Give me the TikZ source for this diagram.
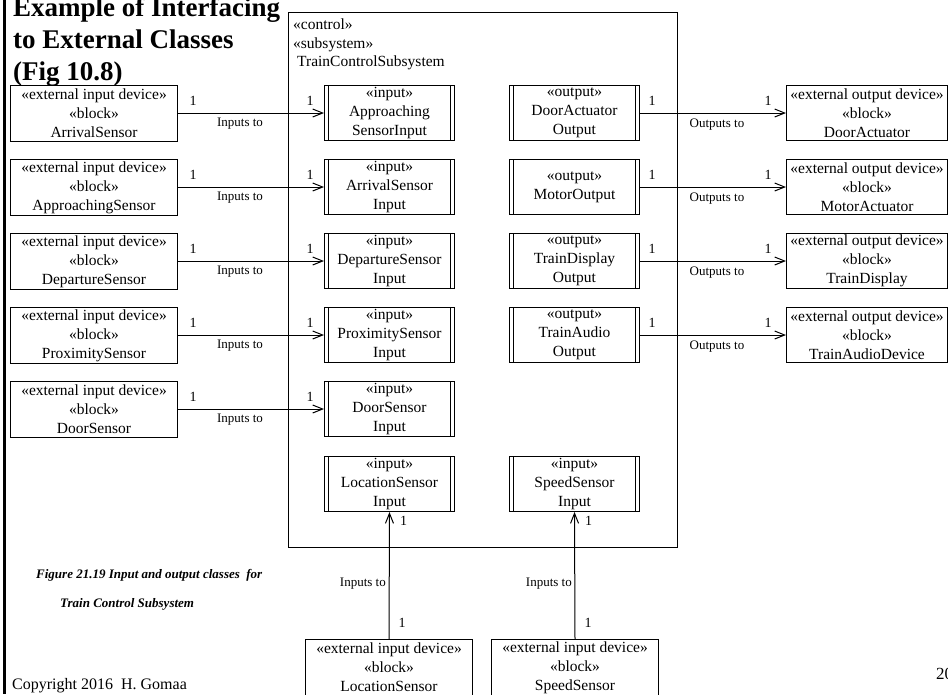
\documentclass[tikz,border=0pt]{standalone}
\usepackage{fontspec}
\setmainfont{Liberation Serif}
\usetikzlibrary{arrows.meta}

\newcommand{\boxfont}{\fontsize{15.5}{19}\selectfont}
\newcommand{\lblfont}{\fontsize{13}{15}\selectfont}
\newcommand{\multfont}{\fontsize{14}{16}\selectfont}

\tikzset{
  every picture/.style={x=1pt,y=-1pt},
  extbox/.style={draw, line width=1pt, align=center, font=\boxfont,
    inner sep=0pt, anchor=north west, minimum width=167pt, minimum height=56pt},
  extout/.style={extbox, minimum width=161pt, minimum height=55pt},
  activebox/.style={draw, line width=1pt, align=center, font=\boxfont,
    inner sep=0pt, anchor=north west, minimum width=130pt, minimum height=55pt,
    path picture={
      \draw[line width=1pt] ([xshift=4pt]path picture bounding box.north west)
        -- ([xshift=4pt]path picture bounding box.south west);
      \draw[line width=1pt] ([xshift=-4pt]path picture bounding box.north east)
        -- ([xshift=-4pt]path picture bounding box.south east);
    }},
  assoc/.style={line width=1pt, -{Straight Barb[length=10pt,width=8pt,line width=1pt]}},
  mult/.style={font=\multfont, inner sep=0pt},
  rolelbl/.style={font=\lblfont, inner sep=0pt},
  titlefont/.style={font=\fontsize{27}{32}\selectfont\bfseries, inner sep=0pt, anchor=base west},
  caption/.style={font=\fontsize{13}{16}\selectfont\bfseries\itshape, inner sep=0pt, anchor=base west},
  plain/.style={font=\boxfont, inner sep=0pt, anchor=base west},
}

\begin{document}
\begin{tikzpicture}
\useasboundingbox (0,0) rectangle (948,694);
\fill[white] (0,0) rectangle (948,694);

% page frame edge on the left
\draw[line width=3pt] (4,0) -- (4,694);

% slide title
\node[titlefont] (t1) at (13,16) {Example of Interfacing};
\node[titlefont] (t2) at (13,48) {to External Classes};
\node[titlefont] (t3) at (13,80) {(Fig 10.8)};

% enclosing subsystem
\draw[line width=1pt] (288,12) rectangle (677,547);
\node[plain] (s1) at (293,29) {«control»};
\node[plain] (s2) at (293,48) {«subsystem»};
\node[plain] (s3) at (297,66) {TrainControlSubsystem};

% external input devices (left column)
\node[extbox] (eArr)  at (10,85)  {«external input device»\\«block»\\ArrivalSensor};
\node[extbox] (eApp)  at (10,159) {«external input device»\\«block»\\ApproachingSensor};
\node[extbox] (eDep)  at (10,233) {«external input device»\\«block»\\DepartureSensor};
\node[extbox] (eProx) at (10,307) {«external input device»\\«block»\\ProximitySensor};
\node[extbox] (eDoor) at (10,381) {«external input device»\\«block»\\DoorSensor};

% input classes
\node[activebox] (iApp)  at (324,85)  {«input»\\Approaching\\SensorInput};
\node[activebox] (iArr)  at (324,159) {«input»\\ArrivalSensor\\Input};
\node[activebox] (iDep)  at (324,233) {«input»\\DepartureSensor\\Input};
\node[activebox] (iProx) at (324,307) {«input»\\ProximitySensor\\Input};
\node[activebox] (iDoor) at (324,381) {«input»\\DoorSensor\\Input};
\node[activebox] (iLoc)  at (324,456) {«input»\\LocationSensor\\Input};
\node[activebox] (iSpd)  at (509,456) {«input»\\SpeedSensor\\Input};

% output classes
\node[activebox] (oDoor)  at (509,85)  {«output»\\DoorActuator\\Output};
\node[activebox] (oMot)   at (509,159) {«output»\\MotorOutput};
\node[activebox] (oDisp)  at (509,233) {«output»\\TrainDisplay\\Output};
\node[activebox] (oAudio) at (509,307) {«output»\\TrainAudio\\Output};

% external output devices (right column)
\node[extout] (xDoor)  at (786,85)  {«external output device»\\«block»\\DoorActuator};
\node[extout] (xMot)   at (786,159) {«external output device»\\«block»\\MotorActuator};
\node[extout] (xDisp)  at (786,233) {«external output device»\\«block»\\TrainDisplay};
\node[extout] (xAudio) at (786,307) {«external output device»\\«block»\\TrainAudioDevice};

% external input devices (bottom)
\node[extbox] (eLoc) at (305,639) {«external input device»\\«block»\\LocationSensor};
\node[extbox] (eSpd) at (491,639) {«external input device»\\«block»\\SpeedSensor};

% input associations from the left
\foreach \src/\dst/\yy in {eArr/iApp/113, eApp/iArr/187, eDep/iDep/261, eProx/iProx/335, eDoor/iDoor/409}{
  \draw[assoc] (\src.east |- 0,\yy) -- (\dst.west |- 0,\yy);
  \node[mult] at (193,\yy-12) {1};
  \node[mult] at (310,\yy-12) {1};
  \node[rolelbl] at (240,\yy+11) {Inputs to};
}

% output associations to the right
\foreach \src/\dst/\yy in {oDoor/xDoor/113, oMot/xMot/187, oDisp/xDisp/261, oAudio/xAudio/335}{
  \draw[assoc] (\src.east |- 0,\yy) -- (\dst.west |- 0,\yy);
  \node[mult] at (652,\yy-12) {1};
  \node[mult] at (768,\yy-12) {1};
  \node[rolelbl] at (717,\yy+12) {Outputs to};
}

% input associations from below
\foreach \src/\dst in {eLoc/iLoc, eSpd/iSpd}{
  \draw[assoc] (\src.north) -- (\dst.south);
  \path (\dst.south) ++(14,9) node[mult] {1};
  \path (\src.north) ++(13,-16) node[mult] {1};
  \path (\src.north) ++(-3,-55) node[rolelbl, anchor=east] {Inputs to};
}

% figure caption
\node[caption] (c1) at (36,578) {Figure 21.19 Input and output classes\ \ for};
\node[caption] (c2) at (60,607) {Train Control Subsystem};

% footer
\node[plain, font=\fontsize{16}{19}\selectfont] (copy) at (12,689) {Copyright 2016\ \ H. Gomaa};
\node[plain, font=\fontsize{17}{20}\selectfont] (pg) at (936,679) {20};
\end{tikzpicture}
\end{document}
